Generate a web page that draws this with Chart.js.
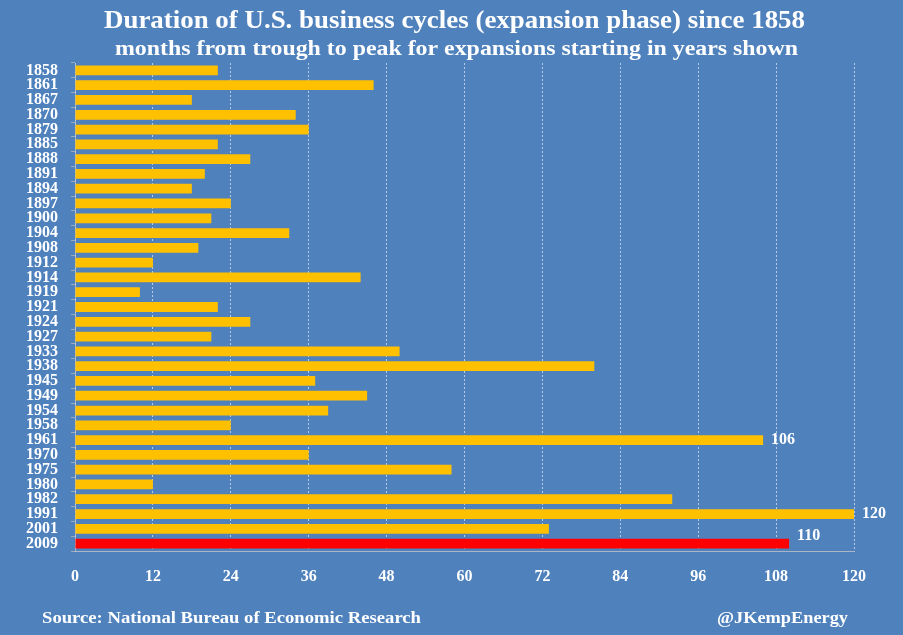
<!DOCTYPE html>
<html>
<head>
<meta charset="utf-8">
<script src="https://cdn.jsdelivr.net/npm/chart.js@4"></script>
<style>
  html, body { margin: 0; padding: 0; background: #4f81bd; }
  #wrap { width: 903px; height: 635px; }
</style>
</head>
<body>
<div id="wrap"><canvas id="myChart"></canvas></div>
<script>
// expansion start years and months trough -> peak (NBER)
const years = ['1858', '1861', '1867', '1870', '1879', '1885', '1888', '1891', '1894', '1897',
    '1900', '1904', '1908', '1912', '1914', '1919', '1921', '1924', '1927', '1933',
    '1938', '1945', '1949', '1954', '1958', '1961', '1970', '1975', '1980', '1982',
    '1991', '2001', '2009'];
const months = [22, 46, 18, 34, 36, 22, 27, 20, 18, 24,
    21, 33, 19, 12, 44, 10, 22, 27, 21, 50,
    80, 37, 45, 39, 24, 106, 36, 58, 12, 92,
    120, 73, 110];
const labelledYears = ['1961', '1991', '2009'];
const xTicks = [0, 12, 24, 36, 48, 60, 72, 84, 96, 108, 120];

const titleText = 'Duration of U.S. business cycles (expansion phase) since 1858';
const subtitleText = 'months from trough to peak for expansions starting in years shown';
const sourceText = 'Source: National Bureau of Economic Research';
const handleText = '@JKempEnergy';

const BG = '#4f81bd';
const SERIF = '"Liberation Serif", "Times New Roman", serif';

document.addEventListener('DOMContentLoaded', () => {
    // fond bleu + textes (titre, source) dessinés à la main
    const decor = {
        id: 'decor',
        beforeDraw(chart) {
            const c = chart.ctx;
            c.save();
            c.fillStyle = BG;
            c.fillRect(0, 0, chart.width, chart.height);
            c.restore();
        },
        afterDraw(chart) {
            const c = chart.ctx;
            function squeezed(text, size, x, y, w) {
                c.save();
                c.font = 'bold ' + size + 'px ' + SERIF;
                c.fillStyle = '#ffffff';
                c.textBaseline = 'alphabetic';
                const k = w / c.measureText(text).width;
                c.translate(x, y);
                c.scale(k, 1);
                c.textAlign = 'left';
                c.fillText(text, 0, 0);
                c.restore();
            }
            squeezed(titleText, 25, 104, 28, 701);
            squeezed(subtitleText, 21, 115, 55, 683);
            squeezed(sourceText, 17, 42, 623, 379);
            squeezed(handleText, 17, 717, 623, 131);
        }
    };

    const valueLabels = {
        id: 'valueLabels',
        afterDatasetsDraw(chart) {
            const c = chart.ctx;
            const meta = chart.getDatasetMeta(0);
            c.save();
            c.font = 'bold 16px ' + SERIF;
            c.fillStyle = '#ffffff';
            c.textAlign = 'left';
            c.textBaseline = 'middle';
            years.forEach((yr, i) => {
                if (!labelledYears.includes(yr)) return;
                const bar = meta.data[i];
                const last = i === years.length - 1;
                c.fillText(String(months[i]), bar.x + 8, last ? bar.y - 8 : bar.y);
            });
            c.restore();
        }
    };

    const ctx = document.getElementById('myChart').getContext('2d');
    const myChart = new Chart(ctx, {
        type: 'bar',
        data: {
            labels: years,
            datasets: [{
                data: months,
                backgroundColor: years.map((y, i) => i === years.length - 1 ? '#ff0000' : '#ffc000'),
                borderWidth: 0,
                barPercentage: 0.66,
                categoryPercentage: 1.0
            }]
        },
        options: {
            indexAxis: 'y',
            responsive: true,
            maintainAspectRatio: false,
            animation: false,
            layout: { padding: { top: 63, right: 49, left: 0, bottom: 0 } },
            plugins: {
                legend: { display: false },
                tooltip: { enabled: false },
                title: { display: false }
            },
            scales: {
                x: {
                    min: 0,
                    max: 120,
                    afterBuildTicks(scale) {
                        scale.ticks = xTicks.map(v => ({ value: v }));
                    },
                    afterFit(scale) { scale.height = 84; },
                    grid: {
                        color: 'rgba(255,255,255,0.6)',
                        lineWidth: 1,
                        drawTicks: false
                    },
                    border: { display: true, color: 'rgba(200,200,200,0.75)', dash: [2, 2] },
                    ticks: {
                        color: '#ffffff',
                        padding: 16,
                        font: { family: SERIF, size: 16, weight: 'bold' }
                    }
                },
                y: {
                    afterFit(scale) { scale.width = 75; },
                    grid: {
                        display: true,
                        drawOnChartArea: false,
                        color: 'rgba(190,190,190,0.7)',
                        tickLength: 4
                    },
                    border: { display: true, color: 'rgba(200,200,200,0.75)' },
                    ticks: {
                        color: '#ffffff',
                        padding: 13,
                        autoSkip: false,
                        font: { family: SERIF, size: 16, weight: 'bold' }
                    }
                }
            }
        },
        plugins: [decor, valueLabels]
    });
});
</script>
</body>
</html>
